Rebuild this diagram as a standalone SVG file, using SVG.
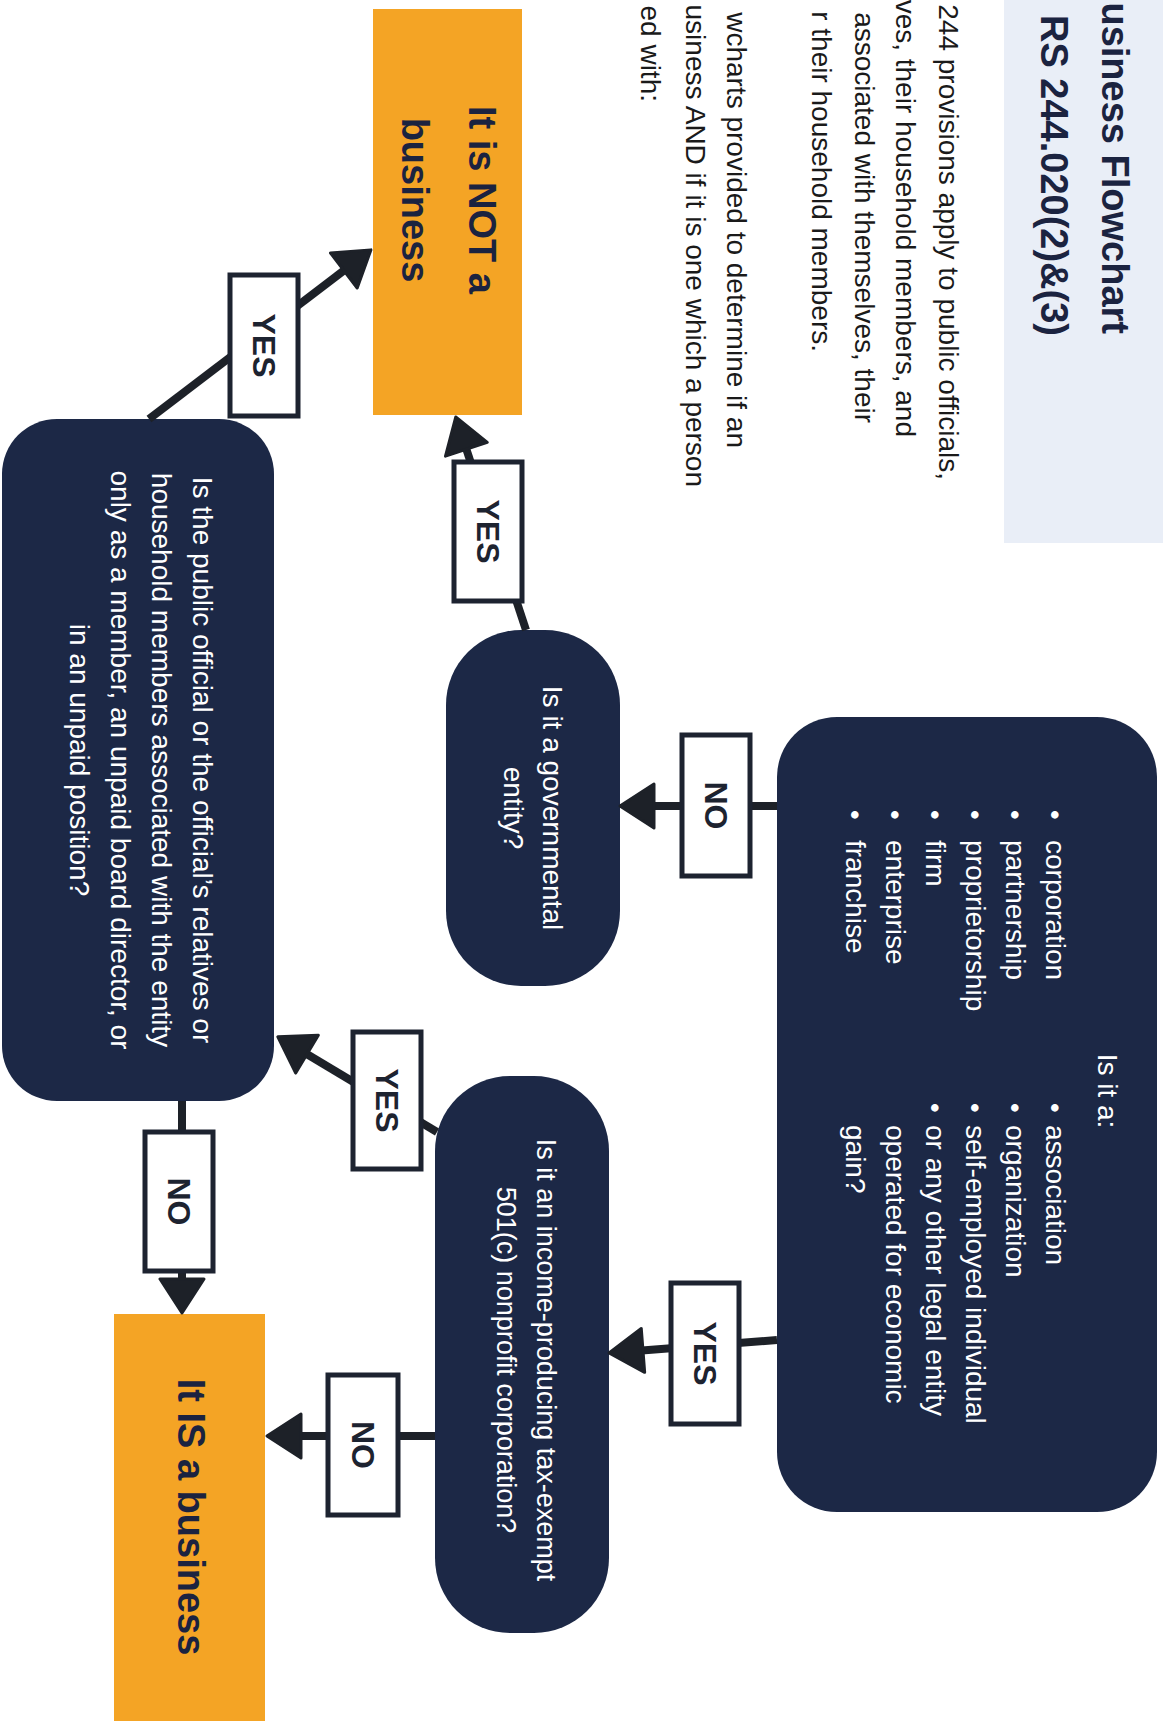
<svg xmlns="http://www.w3.org/2000/svg" width="1163" height="1727" viewBox="0 0 1163 1727">
<defs>
<style>
.bg{fill:#ffffff}
.title-box{fill:#e9eef7}
.title{font-family:"Liberation Sans",Arial,sans-serif;font-weight:bold;font-size:38px;fill:#1b2340}
.body{font-family:"Liberation Sans",Arial,sans-serif;font-size:28px;fill:#1a1a1a}
.node{fill:#1c2846}
.nt{font-family:"Liberation Sans",Arial,sans-serif;font-size:28px;fill:#ffffff}
.out{fill:#f4a425}
.ot{font-family:"Liberation Sans",Arial,sans-serif;font-weight:bold;font-size:38px;fill:#1b2340;text-anchor:middle}
.edge{stroke:#1d2128;stroke-width:8;fill:none;marker-end:url(#ah)}
.lbl rect{fill:#ffffff;stroke:#1d2330;stroke-width:5}
.lbl text{font-family:"Liberation Sans",Arial,sans-serif;font-weight:bold;font-size:32px;fill:#1d2330;text-anchor:middle}
</style>
<marker id="ah" markerUnits="userSpaceOnUse" markerWidth="40" markerHeight="48" refX="14" refY="22" orient="auto" viewBox="-2 -2 40 48">
<path d="M0,0 L34,22 L0,44 Z" fill="#1d2128" stroke="#1d2128" stroke-width="3" stroke-linejoin="round"/>
</marker>
</defs>
<rect class="bg" x="0" y="0" width="1163" height="1727"/>
<g transform="translate(1163,0) rotate(90)">
  <g id="header">
    <rect class="title-box" x="0" y="0" width="543" height="159"/>
    <text class="title" x="334" y="61" text-anchor="end">usiness Flowchart</text>
    <text class="title" x="336" y="122" text-anchor="end">RS 244.020(2)&amp;(3)</text>
    <text class="body" x="480" y="224" text-anchor="end">244 provisions apply to public officials,</text>
    <text class="body" x="437" y="267" text-anchor="end">ves, their household members, and</text>
    <text class="body" x="423" y="308" text-anchor="end">associated with themselves, their</text>
    <text class="body" x="352" y="351" text-anchor="end">r their household members.</text>
    <text class="body" x="448" y="436" text-anchor="end">wcharts provided to determine if an</text>
    <text class="body" x="487" y="477" text-anchor="end">usiness AND if it is one which a person</text>
    <text class="body" x="102" y="522" text-anchor="end">ed with:</text>
  </g>

  <g id="node-is-it-a">
    <rect class="node" x="717" y="6" width="795" height="380" rx="60"/>
    <text class="nt" x="1091" y="65" text-anchor="middle">Is it a:</text>
    <g class="nt">
      <text x="815" y="117" text-anchor="middle">•</text><text x="840" y="117">corporation</text>
      <text x="815" y="157" text-anchor="middle">•</text><text x="840" y="157">partnership</text>
      <text x="815" y="197" text-anchor="middle">•</text><text x="840" y="197">proprietorship</text>
      <text x="815" y="237" text-anchor="middle">•</text><text x="840" y="237">firm</text>
      <text x="815" y="277" text-anchor="middle">•</text><text x="840" y="277">enterprise</text>
      <text x="815" y="317" text-anchor="middle">•</text><text x="840" y="317">franchise</text>
      <text x="1108" y="117" text-anchor="middle">•</text><text x="1125" y="117">association</text>
      <text x="1108" y="157" text-anchor="middle">•</text><text x="1125" y="157">organization</text>
      <text x="1108" y="197" text-anchor="middle">•</text><text x="1125" y="197">self-employed individual</text>
      <text x="1108" y="237" text-anchor="middle">•</text><text x="1125" y="237">or any other legal entity</text>
      <text x="1125" y="277">operated for economic</text>
      <text x="1125" y="317">gain?</text>
    </g>
  </g>

  <g id="node-governmental">
    <rect class="node" x="630" y="543" width="356" height="174" rx="75"/>
    <text class="nt" x="808" y="620" text-anchor="middle">Is it a governmental</text>
    <text class="nt" x="808" y="659" text-anchor="middle">entity?</text>
  </g>

  <g id="node-501c">
    <rect class="node" x="1076" y="554" width="557" height="174" rx="75"/>
    <text class="nt" x="1360" y="626" text-anchor="middle" style="font-size:27px">Is it an income-producing tax-exempt</text>
    <text class="nt" x="1360" y="666" text-anchor="middle" style="font-size:27px">501(c) nonprofit corporation?</text>
  </g>

  <g id="node-unpaid">
    <rect class="node" x="419" y="889" width="682" height="272" rx="55"/>
    <text class="nt" x="760" y="970" text-anchor="middle">Is the public official or the official’s relatives or</text>
    <text class="nt" x="760" y="1011" text-anchor="middle">household members associated with the entity</text>
    <text class="nt" x="760" y="1052" text-anchor="middle">only as a member, an unpaid board director, or</text>
    <text class="nt" x="760" y="1093" text-anchor="middle">in an unpaid position?</text>
  </g>

  <g id="node-not-business">
    <rect class="out" x="9" y="641" width="406" height="149"/>
    <text class="ot" x="200" y="694">It is NOT a</text>
    <text class="ot" x="200" y="761">business</text>
  </g>

  <g id="node-is-business">
    <rect class="out" x="1314" y="898" width="407" height="151"/>
    <text class="ot" x="1517" y="985">It IS a business</text>
  </g>

  <g id="connectors">
    <line class="edge" x1="806" y1="386" x2="806" y2="523"/>
    <line class="edge" x1="1340" y1="386" x2="1351.5" y2="534"/>
    <line class="edge" x1="630" y1="637" x2="436" y2="701"/>
    <line class="edge" x1="419" y1="1014" x2="262" y2="808"/>
    <line class="edge" x1="1132" y1="726" x2="1047" y2="868"/>
    <line class="edge" x1="1101" y1="981" x2="1293" y2="981"/>
    <line class="edge" x1="1436" y1="728" x2="1436" y2="876"/>

    <g class="lbl"><rect x="735" y="413" width="141" height="68"/><text x="805.5" y="458.5">NO</text></g>
    <g class="lbl"><rect x="1283" y="424" width="141" height="68"/><text x="1353.5" y="469.5">YES</text></g>
    <g class="lbl"><rect x="462" y="641" width="139" height="68"/><text x="531.5" y="686.5">YES</text></g>
    <g class="lbl"><rect x="275" y="865" width="141" height="68"/><text x="345.5" y="910.5">YES</text></g>
    <g class="lbl"><rect x="1032" y="742" width="137" height="68"/><text x="1100.5" y="787.5">YES</text></g>
    <g class="lbl"><rect x="1132" y="950" width="139" height="68"/><text x="1201.5" y="995.5">NO</text></g>
    <g class="lbl"><rect x="1375" y="765" width="140" height="70"/><text x="1445" y="811.5">NO</text></g>
  </g>
</g>
</svg>
